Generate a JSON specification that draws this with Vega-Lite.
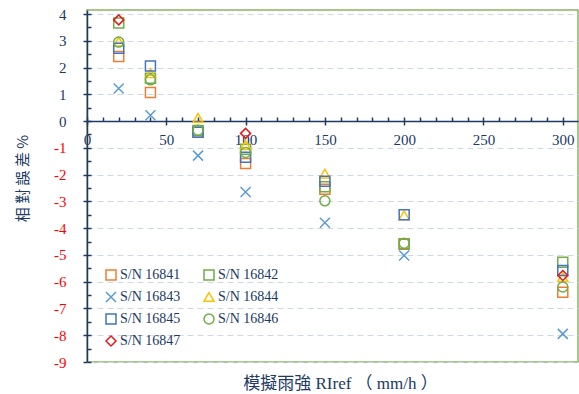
{
  "$schema": "https://vega.github.io/schema/vega-lite/v6.json",
  "width": 491,
  "height": 352,
  "autosize": "none",
  "padding": {"left": 87, "top": 10, "right": 1, "bottom": 32},
  "background": "white",
  "config": {"view": {"stroke": "#8CB26A", "strokeWidth": 1.5}, "font": "Liberation Serif"},
  "data": {"values": [
    {"sn": "S/N 16841", "ri": 20, "err": 2.41},
    {"sn": "S/N 16841", "ri": 40, "err": 1.07},
    {"sn": "S/N 16841", "ri": 70, "err": -0.42},
    {"sn": "S/N 16841", "ri": 100, "err": -1.58},
    {"sn": "S/N 16841", "ri": 150, "err": -2.55},
    {"sn": "S/N 16841", "ri": 200, "err": -4.6},
    {"sn": "S/N 16841", "ri": 300, "err": -6.39},
    {"sn": "S/N 16842", "ri": 20, "err": 3.66},
    {"sn": "S/N 16842", "ri": 40, "err": 1.6},
    {"sn": "S/N 16842", "ri": 70, "err": -0.35},
    {"sn": "S/N 16842", "ri": 100, "err": -1.05},
    {"sn": "S/N 16842", "ri": 150, "err": -2.45},
    {"sn": "S/N 16842", "ri": 200, "err": -4.58},
    {"sn": "S/N 16842", "ri": 300, "err": -5.27},
    {"sn": "S/N 16843", "ri": 20, "err": 1.22},
    {"sn": "S/N 16843", "ri": 40, "err": 0.22},
    {"sn": "S/N 16843", "ri": 70, "err": -1.29},
    {"sn": "S/N 16843", "ri": 100, "err": -2.65},
    {"sn": "S/N 16843", "ri": 150, "err": -3.8},
    {"sn": "S/N 16843", "ri": 200, "err": -5.02},
    {"sn": "S/N 16843", "ri": 300, "err": -7.95},
    {"sn": "S/N 16844", "ri": 20, "err": 2.97},
    {"sn": "S/N 16844", "ri": 40, "err": 1.79},
    {"sn": "S/N 16844", "ri": 70, "err": 0.12},
    {"sn": "S/N 16844", "ri": 100, "err": -0.9},
    {"sn": "S/N 16844", "ri": 150, "err": -1.96},
    {"sn": "S/N 16844", "ri": 200, "err": -3.52},
    {"sn": "S/N 16844", "ri": 300, "err": -5.83},
    {"sn": "S/N 16845", "ri": 20, "err": 2.72},
    {"sn": "S/N 16845", "ri": 40, "err": 2.06},
    {"sn": "S/N 16845", "ri": 70, "err": -0.42},
    {"sn": "S/N 16845", "ri": 100, "err": -1.35},
    {"sn": "S/N 16845", "ri": 150, "err": -2.25},
    {"sn": "S/N 16845", "ri": 200, "err": -3.5},
    {"sn": "S/N 16845", "ri": 300, "err": -5.58},
    {"sn": "S/N 16846", "ri": 20, "err": 2.95},
    {"sn": "S/N 16846", "ri": 40, "err": 1.54},
    {"sn": "S/N 16846", "ri": 70, "err": -0.34},
    {"sn": "S/N 16846", "ri": 100, "err": -1.17},
    {"sn": "S/N 16846", "ri": 150, "err": -2.98},
    {"sn": "S/N 16846", "ri": 200, "err": -4.56},
    {"sn": "S/N 16846", "ri": 300, "err": -6.2},
    {"sn": "S/N 16847", "ri": 20, "err": 3.78},
    {"sn": "S/N 16847", "ri": 100, "err": -0.46},
    {"sn": "S/N 16847", "ri": 300, "err": -5.77}
  ]},
  "layer": [
    {
      "mark": {"type": "point", "filled": false, "size": 100, "strokeWidth": 1.5, "opacity": 1},
      "encoding": {
        "x": {
          "field": "ri", "type": "quantitative",
          "scale": {"domain": [0, 309.6], "nice": false, "zero": false},
          "axis": {
            "orient": "bottom", "offset": -241,
            "values": [0,10,20,30,40,50,60,70,80,90,100,110,120,130,140,150,160,170,180,190,200,210,220,230,240,250,260,270,280,290,300],
            "labelExpr": "datum.value % 50 === 0 ? datum.label : ''",
            "tickSize": -4, "tickWidth": 1.5, "tickColor": "#203864",
            "domainColor": "#203864", "domainWidth": 1.5,
            "labelFont": "Liberation Serif", "labelFontSize": 15, "labelColor": "#203864",
            "labelPadding": 15, "labelFlush": false, "labelOverlap": false, "labelBound": false,
            "grid": false,
            "title": "模擬雨強 RIref （ mm/h ）",
            "titleFont": "Liberation Serif, Noto Sans CJK TC", "titleFontSize": 17, "titleFontWeight": "normal",
            "titleColor": "#203864", "titleX": 253, "titleY": 262, "titleBaseline": "middle", "titleAlign": "center"
          }
        },
        "y": {
          "field": "err", "type": "quantitative",
          "scale": {"domain": [-9, 4.15], "nice": false, "zero": false},
          "axis": {
            "orient": "left",
            "values": [-9,-8.5,-8,-7.5,-7,-6.5,-6,-5.5,-5,-4.5,-4,-3.5,-3,-2.5,-2,-1.5,-1,-0.5,0,0.5,1,1.5,2,2.5,3,3.5,4],
            "labelExpr": "datum.value % 1 === 0 ? '' + datum.value : ''",
            "tickSize": -4, "tickWidth": 1.5, "tickColor": "#203864",
            "domainColor": "#203864", "domainWidth": 1.5,
            "labelFont": "Liberation Serif", "labelFontSize": 15,
            "labelColor": {"condition": {"test": "datum.value < 0", "value": "#FF0000"}, "value": "#203864"},
            "labelPadding": 25, "labelOverlap": false, "labelBound": false, "labelFlush": false,
            "grid": true, "gridColor": "#CFD8E6", "gridDash": [6, 4], "gridWidth": 1,
            "gridOpacity": {"condition": {"test": "datum.value % 1 !== 0", "value": 0}, "value": 1},
            "title": "相 對 誤 差 %",
            "titleFont": "Noto Sans CJK TC", "titleFontSize": 15, "titleFontWeight": "normal",
            "titleColor": "#203864", "titleX": -65, "titleY": 168, "titleAngle": -90,
            "titleBaseline": "middle", "titleAlign": "center"
          }
        },
        "color": {
          "field": "sn", "type": "nominal",
          "scale": {
            "domain": ["S/N 16841","S/N 16843","S/N 16845","S/N 16847","S/N 16842","S/N 16844","S/N 16846"],
            "range": ["#ED7D31","#5B9BD5","#4472C4","#E31A1C","#70AD47","#FFC000","#70AD47"]
          },
          "legend": {
            "title": null, "orient": "none", "legendX": 17, "legendY": 258,
            "columns": 2, "labelFont": "Liberation Serif", "labelFontSize": 14, "labelColor": "#203864",
            "symbolSize": 100, "symbolStrokeWidth": 1.5, "rowPadding": 6, "columnPadding": 20,
            "labelOffset": 2, "padding": 0
          }
        },
        "shape": {
          "field": "sn", "type": "nominal",
          "scale": {
            "domain": ["S/N 16841","S/N 16843","S/N 16845","S/N 16847","S/N 16842","S/N 16844","S/N 16846"],
            "range": ["square","M-1,-1L1,1M-1,1L1,-1","square","diamond","square","triangle-up","circle"]
          }
        }
      }
    },
    {
      "mark": {"type": "point", "opacity": 0},
      "encoding": {
        "x": {
          "field": "ri", "type": "quantitative",
          "scale": {"domain": [0, 309.6], "nice": false, "zero": false},
          "axis": {
            "orient": "bottom", "offset": -241, "values": [0,50,100,150,200,250,300],
            "labels": false, "domain": false, "grid": false, "title": null,
            "tickSize": 4, "tickWidth": 1.5, "tickColor": "#203864"
          }
        },
        "y": {
          "field": "err", "type": "quantitative",
          "scale": {"domain": [-9, 4.15], "nice": false, "zero": false},
          "axis": {
            "orient": "left", "values": [-9,-8,-7,-6,-5,-4,-3,-2,-1,0,1,2,3,4],
            "labels": false, "domain": false, "grid": false, "title": null,
            "tickSize": 4, "tickWidth": 1.5, "tickColor": "#203864"
          }
        }
      }
    }
  ],
  "resolve": {"axis": {"x": "independent", "y": "independent"}}
}
